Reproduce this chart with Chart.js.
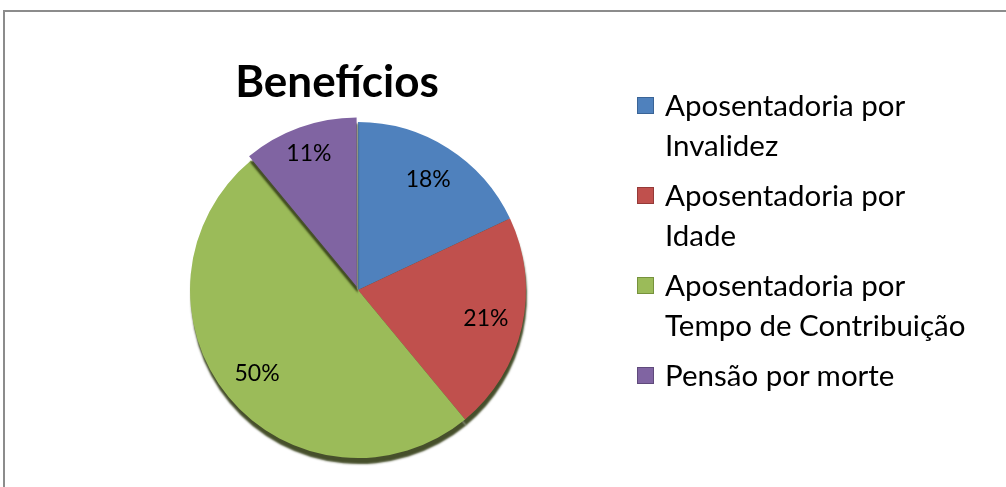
<!DOCTYPE html>
<html>
<head>
<meta charset="utf-8">
<script src="https://cdn.jsdelivr.net/npm/chart.js@4/dist/chart.umd.min.js"></script>
<style>
  html, body { margin: 0; padding: 0; background: #fff; }
  body { width: 1006px; height: 487px; position: relative; overflow: hidden; font-family: Lato, "Open Sans", sans-serif; }
  .frame { position: absolute; left: 3px; top: 10px; width: 1100px; height: 600px; border-left: 2px solid #8c8c8c; border-top: 2px solid #8c8c8c; }
  #title { position: absolute; left: 0; width: 674px; top: 54px; text-align: center; font-weight: bold; font-size: 44px; color: #000; }
  #legend { position: absolute; left: 637px; top: 85px; }
  .item { position: relative; padding-left: 28px; font-size: 29.5px; line-height: 40px; color: #000; margin-bottom: 10px; }
  .item .box { position: absolute; left: 0; top: 12px; width: 15px; height: 15px; border: 1px solid; }
  #wrap { position: absolute; left: 0; top: 0; width: 1006px; height: 487px; }
</style>
</head>
<body>
<div class="frame"></div>
<div id="wrap"><canvas id="pie"></canvas></div>
<div id="title">Benefícios</div>
<div id="legend"></div>
<script>
var categories = [
  ["Aposentadoria por", "Invalidez"],
  ["Aposentadoria por", "Idade"],
  ["Aposentadoria por", "Tempo de Contribuição"],
  ["Pensão por morte"]
];
var percentValues = [18, 21, 50, 11];
var sliceColors = ["#4f81bd", "#c0504d", "#9bbb59", "#8064a2"];
var edgeColors = ["#3a6496", "#953a38", "#76923c", "#5f4a7b"];
var sliceOffsets = [0, 0, 0, 14];

// legend in html so the labels can wrap like the original
var legendHtml = "";
for (var i = 0; i < categories.length; i++) {
  legendHtml += "<div class='item'><span class='box' style='background:" + sliceColors[i] +
    ";border-color:" + edgeColors[i] + "'></span>" + categories[i].join("<br>") + "</div>";
}
document.getElementById("legend").innerHTML = legendHtml;

var shadowPlugin = {
  id: "pieShadow",
  beforeDatasetsDraw: function(chart) {
    var ctx = chart.ctx;
    ctx.save();
    ctx.shadowColor = "rgba(50,60,20,0.9)";
    ctx.shadowBlur = 2;
    ctx.shadowOffsetX = 1;
    ctx.shadowOffsetY = 6;
  },
  afterDatasetsDraw: function(chart) {
    chart.ctx.restore();
  }
};

var pctLabels = {
  id: "pctLabels",
  afterDraw: function(chart) {
    var ctx = chart.ctx,
        meta = chart.getDatasetMeta(0);
    ctx.save();
    ctx.font = "23px Lato, 'Open Sans', sans-serif";
    ctx.fillStyle = "#000";
    ctx.textAlign = "center";
    ctx.textBaseline = "middle";
    meta.data.forEach(function(arc, i) {
      var p = arc.getProps(["x", "y", "startAngle", "endAngle", "outerRadius"], true),
          mid = (p.startAngle + p.endAngle) / 2,
          off = sliceOffsets[i],
          r = p.outerRadius * 0.78 + off;
      ctx.fillText(percentValues[i] + "%", p.x + Math.cos(mid) * r, p.y + Math.sin(mid) * r);
    });
    ctx.restore();
  }
};

var pieChart = new Chart(document.getElementById("pie").getContext("2d"), {
  type: "pie",
  data: {
    labels: categories.map(function(c) { return c.join(" "); }),
    datasets: [{
      data: percentValues,
      backgroundColor: sliceColors,
      borderWidth: 0,
      offset: sliceOffsets
    }]
  },
  options: {
    responsive: true,
    maintainAspectRatio: false,
    animation: false,
    radius: 168,
    layout: { padding: { left: 180, right: 470, top: 113, bottom: 20 } },
    plugins: {
      legend: { display: false },
      tooltip: { enabled: false },
      title: { display: false }
    }
  },
  plugins: [shadowPlugin, pctLabels]
});
</script>
</body>
</html>
